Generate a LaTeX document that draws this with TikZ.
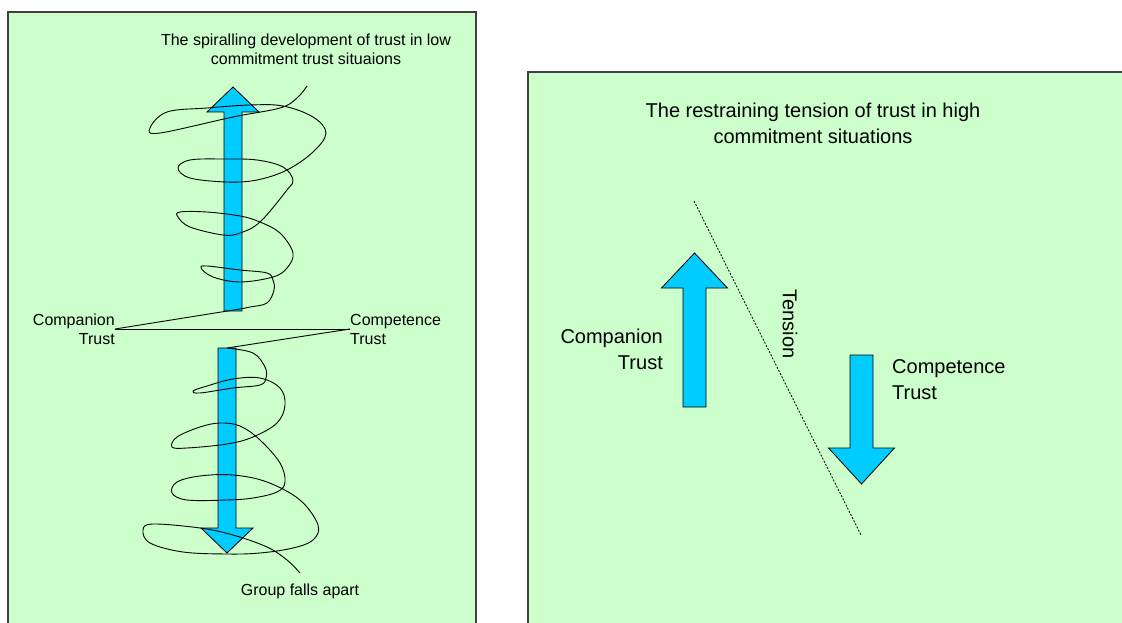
\documentclass[tikz,border=0pt]{standalone}
\usepackage{fontspec}
\setmainfont{Liberation Sans}
\usetikzlibrary{positioning}
\definecolor{panelgreen}{HTML}{CCFFCC}
\definecolor{arrowcyan}{HTML}{00CCFF}
\tikzstyle{panel} = [fill=panelgreen, draw=black!75, line width=1.2pt]
\tikzstyle{trust arrow} = [fill=arrowcyan, draw=black, line width=0.8pt, line join=miter]
\tikzstyle{small label} = [inner sep=0pt, font=\fontsize{16}{19}\selectfont]
\tikzstyle{big label} = [inner sep=0pt, font=\fontsize{20}{26}\selectfont]
\tikzstyle{spiral} = [line width=0.9pt, line join=round]
\tikzstyle{tension line} = [dash pattern=on 2pt off 1.5pt, line width=0.7pt]
% Block arrow: x, tail y, head base y, tip y, half shaft, half head.
\newcommand*{\trustarrow}[6]{%
    \draw [trust arrow] (#1-#5,#2) -- (#1+#5,#2) -- (#1+#5,#3) -- (#1+#6,#3)
        -- (#1,#4) -- (#1-#6,#3) -- (#1-#5,#3) -- cycle;
}
\begin{document}
\begin{tikzpicture}[x=1pt, y=-1pt]
    \useasboundingbox (0,0) rectangle (1122,623);
    \clip (0,0) rectangle (1122,623);

    % Panels.
    \draw [panel] (8,12) rectangle (476,650);
    \draw [panel] (528,72) rectangle (1150,650);

    % Left panel.
    \node (low title) [small label, align=center] at (306,49.5)
        {The spiralling development of trust in low\\commitment trust situaions};
    \node (left companion) [small label, align=right, anchor=east] at (115,329)
        {Companion\\Trust};
    \node (left competence) [small label, align=left, anchor=west] at (350,329)
        {Competence\\Trust};
    \node (falls apart) [small label] at (300,591) {Group falls apart};

    \trustarrow{233}{311}{112}{87}{9}{26}
    \trustarrow{227}{348}{528}{553}{9}{26}
    \coordinate (up tail) at (240,309);
    \coordinate (down top) at (227,348);

    \draw [spiral] (left companion.east) -- (left competence.west);
    \draw [spiral] (left companion.east) -- (up tail)
        plot [smooth, tension=0.6] coordinates {(up tail) (250,307) (267,303)
        (274,290) (273,280) (267,273) (240,270) (207,266) (201,268) (213,277)
        (240,282) (273,277) (287,268) (293,253) (280,233) (260,222) (240,216)
        (207,212) (180,212) (178,217) (190,227) (223,235) (240,233) (260,222)
        (287,190) (293,180) (283,167) (257,160) (223,159) (190,160) (178,168)
        (190,178) (227,182) (257,180) (287,170) (313,152) (326,133) (313,117)
        (283,106) (250,105) (207,108) (167,112) (150,128) (160,133) (233,117)
        (280,108) (297,98) (307,86)};
    \draw [spiral] (left competence.west) -- (down top)
        plot [smooth, tension=0.6] coordinates {(down top) (253,353) (265,367)
        (266,378) (260,385) (233,388) (200,393) (193,391) (207,386) (233,379)
        (260,378) (280,388) (285,405) (277,423) (253,437) (227,444) (187,448)
        (172,447) (177,437) (200,427) (220,423) (240,426) (260,440) (280,463)
        (285,482) (277,492) (253,498) (227,500) (187,500) (172,493) (177,482)
        (200,476) (233,475) (267,482) (300,500) (318,525) (313,540) (293,548)
        (260,553) (227,554) (183,552) (150,543) (143,530) (153,524) (200,528)
        (233,535) (267,547) (287,560) (300,573)};

    % Right panel.
    \node (high title) [big label, align=center] at (813,123)
        {The restraining tension of trust in high\\commitment situations};
    \trustarrow{694.5}{407}{288}{253}{11.5}{33}
    \trustarrow{861.5}{355}{448}{484}{11.5}{33}
    \node (right companion) [big label, align=right, anchor=east] at (663,349.5)
        {Companion\\Trust};
    \node (right competence) [big label, align=left, anchor=west] at (892,379.5)
        {Competence\\Trust};

    \coordinate (tension top) at (694,201);
    \coordinate (tension bottom) at (861,535);
    \draw [tension line] (tension top) -- (tension bottom);
    \node (tension) [big label, rotate=-90] at (790,324) {Tension};
\end{tikzpicture}
\end{document}
